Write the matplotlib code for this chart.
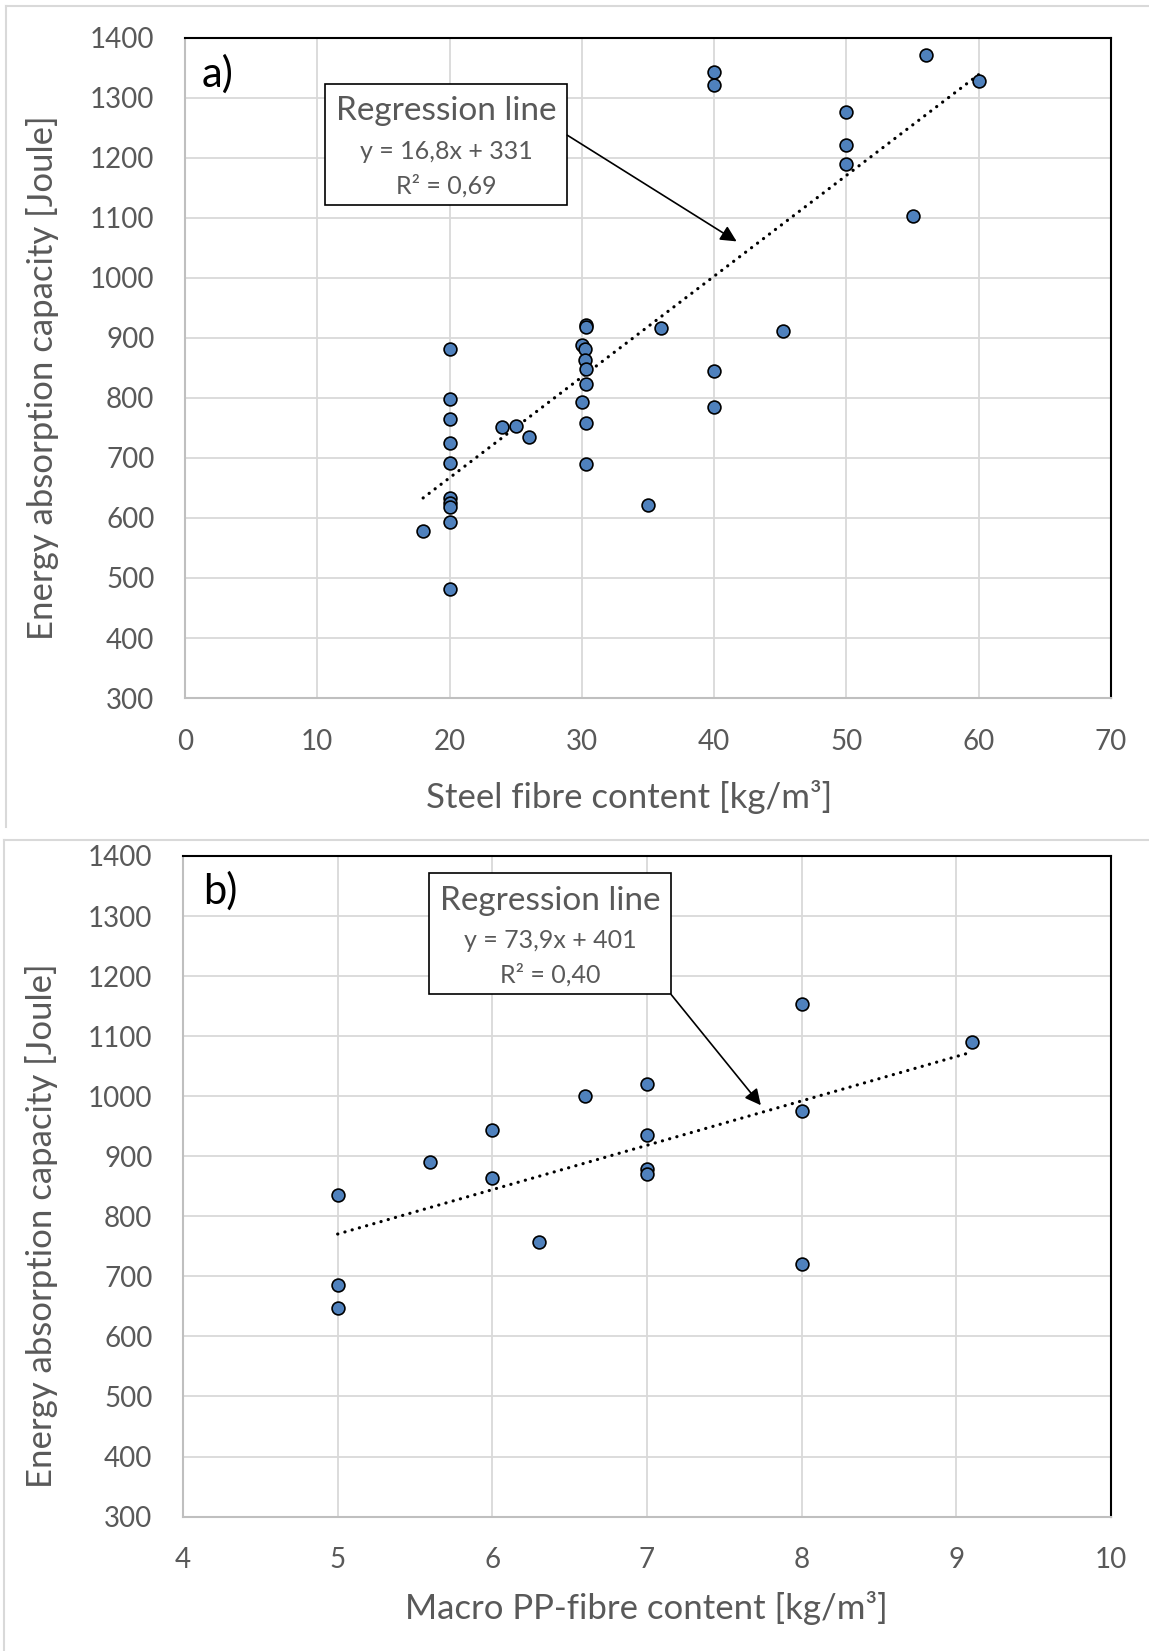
import matplotlib
matplotlib.use("Agg")
import matplotlib.pyplot as plt
from matplotlib.patches import Rectangle
from matplotlib.lines import Line2D
import numpy as np

plt.rcParams['font.family'] = ['Lato', 'DejaVu Sans']

# ---- Panel a: steel fibres ----
steel_x = [56, 40, 40, 60, 50, 50, 50, 55, 30.3, 30.3, 36, 45.2, 20, 30, 30.2, 30.2,
           30.3, 30.3, 30, 30.3, 30.3, 40, 40, 20, 20, 20, 20, 24, 25, 26, 20, 20, 20,
           20, 18, 35, 20]
steel_y = [1372, 1344, 1321, 1328, 1277, 1221, 1190, 1104, 922, 919, 916, 912, 881, 888,
           882, 863, 849, 824, 794, 758, 690, 845, 785, 798, 765, 725, 692, 751, 754,
           735, 634, 625, 619, 593, 578, 622, 482]
steel_slope, steel_icpt = 16.8, 331
steel_eq = "y = 16,8x + 331"
steel_r2 = "R² = 0,69"

# ---- Panel b: macro PP fibres ----
pp_x = [8, 9.1, 7, 6.6, 6, 7, 8, 5.6, 6, 7, 7, 5, 6.3, 8, 5, 5]
pp_y = [1154, 1091, 1020, 1000, 944, 936, 975, 891, 863, 879, 870, 836, 757, 721, 686, 648]
pp_slope, pp_icpt = 73.9, 401
pp_eq = "y = 73,9x + 401"
pp_r2 = "R² = 0,40"

y_ticks = [300, 400, 500, 600, 700, 800, 900, 1000, 1100, 1200, 1300, 1400]
steel_xticks = [0, 10, 20, 30, 40, 50, 60, 70]
pp_xticks = [4, 5, 6, 7, 8, 9, 10]

W, H = 1149, 1651
fig = plt.figure(figsize=(W / 100, H / 100), dpi=100)

GRAY_TXT = '#595959'
GRID = '#D9D9D9'
BLUE = '#4F81BD'

# chart-area borders
fig.add_artist(Line2D([6 / W, 6 / W], [1 - 6 / H, 1 - 827 / H], color=GRID, lw=1.5))
fig.add_artist(Line2D([6 / W, 1], [1 - 6 / H, 1 - 6 / H], color=GRID, lw=1.5))
fig.add_artist(Line2D([4 / W, 1], [1 - 840 / H, 1 - 840 / H], color=GRID, lw=1.5))
fig.add_artist(Line2D([4 / W, 4 / W], [1 - 840 / H, 0], color=GRID, lw=1.5))


def setup(ax, xticks, xlim):
    ax.set_xlim(*xlim)
    ax.set_ylim(300, 1400)
    ax.set_xticks(xticks)
    ax.set_yticks(y_ticks)
    ax.grid(True, color=GRID, lw=1.3)
    ax.set_axisbelow(True)
    ax.tick_params(length=0, labelsize=20, labelcolor=GRAY_TXT, pad=22)
    for s in ['left', 'bottom']:
        ax.spines[s].set_color('#BFBFBF')
        ax.spines[s].set_linewidth(1.5)
    for s in ['top', 'right']:
        ax.spines[s].set_color('black')
        ax.spines[s].set_linewidth(1.5)


def panel(ax, x, y, slope, icpt, eq, r2, box, arrow, lab, labpos, xlab, xlab_pos, ylab_pos):
    ax.scatter(x, y, s=85, color=BLUE, edgecolors='black', linewidths=1.2, zorder=3)
    xs = np.array([min(x), max(x)])
    ax.plot(xs, slope * xs + icpt, color='black', lw=2.3, linestyle=(0, (0.05, 2.3)),
            dash_capstyle='round', zorder=2)
    x0, x1, y0, y1 = box
    ax.add_patch(Rectangle((x0, y0), x1 - x0, y1 - y0, facecolor='white',
                           edgecolor='black', lw=1.2, zorder=4))
    cx = (x0 + x1) / 2
    h = y1 - y0
    ax.text(cx, y1 - 0.23 * h, "Regression line", ha='center', va='center',
            fontsize=24, color=GRAY_TXT, zorder=5)
    ax.text(cx, y1 - 0.56 * h, eq, ha='center', va='center', fontsize=18,
            color=GRAY_TXT, zorder=5)
    ax.text(cx, y1 - 0.84 * h, r2, ha='center', va='center', fontsize=18,
            color=GRAY_TXT, zorder=5)
    (sx, sy), (tx, ty) = arrow
    ax.annotate("", xy=(tx, ty), xytext=(sx, sy),
                arrowprops=dict(arrowstyle='-|>', color='black', lw=1.2,
                                mutation_scale=24, shrinkA=0, shrinkB=0), zorder=5)
    ax.text(labpos[0], labpos[1], lab, ha='center', va='center', fontsize=30, color='black')
    ax.text(xlab_pos[0], xlab_pos[1], xlab, transform=ax.transAxes, ha='center',
            va='center', fontsize=25, color=GRAY_TXT)
    ax.text(ylab_pos[0], ylab_pos[1], "Energy absorption capacity [Joule]",
            transform=ax.transAxes, ha='center', va='center', rotation=90,
            fontsize=25, color=GRAY_TXT)


ax1 = fig.add_axes([185 / W, 1 - 698 / H, (1111 - 185) / W, 660 / H])
setup(ax1, steel_xticks, (0, 70))
panel(ax1, steel_x, steel_y, steel_slope, steel_icpt, steel_eq, steel_r2,
      box=(10.57, 28.88, 1122, 1324),
      arrow=((28.9, 1238), (41.7, 1061)),
      lab="a)", labpos=(2.47, 1340),
      xlab="Steel fibre content [kg/m³]", xlab_pos=(0.48, -0.15),
      ylab_pos=(-0.1544, 0.485))

ax2 = fig.add_axes([183 / W, 1 - 1516.6 / H, (1111 - 183) / W, 660.6 / H])
setup(ax2, pp_xticks, (4, 10))
panel(ax2, pp_x, pp_y, pp_slope, pp_icpt, pp_eq, pp_r2,
      box=(5.591, 7.157, 1170, 1372),
      arrow=((7.157, 1169), (7.736, 985)),
      lab="b)", labpos=(4.24, 1342),
      xlab="Macro PP-fibre content [kg/m³]", xlab_pos=(0.499, -0.138),
      ylab_pos=(-0.152, 0.44))

fig.savefig("out.png", dpi=100)
